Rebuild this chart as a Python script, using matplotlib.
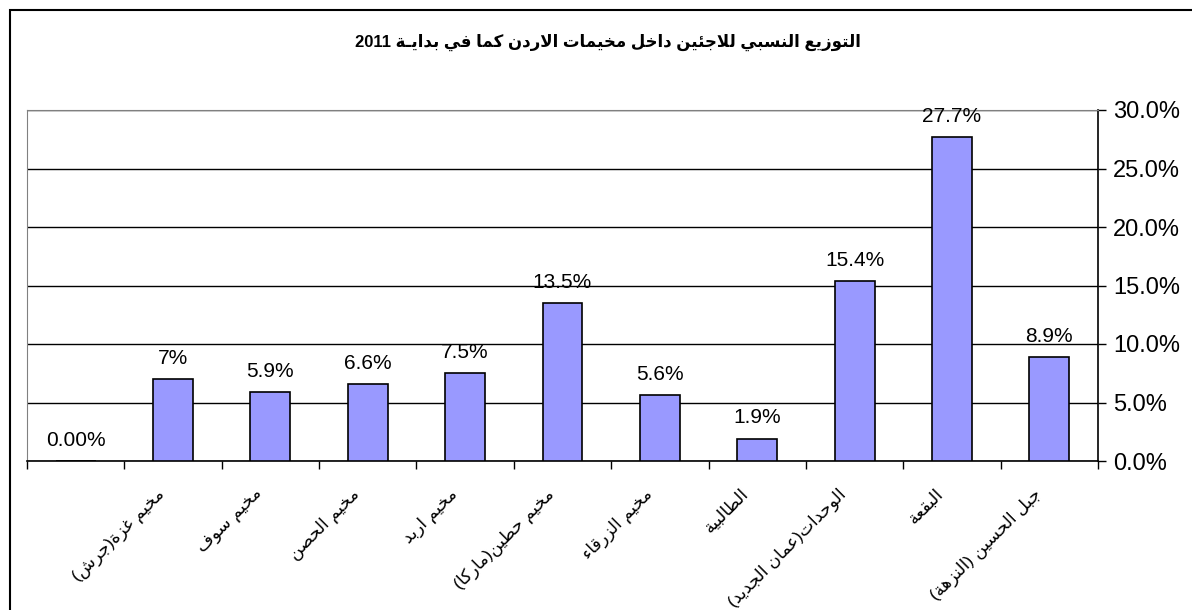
import re
import matplotlib
matplotlib.use("Agg")
import matplotlib.pyplot as plt
import matplotlib.transforms as mtransforms
from matplotlib.patches import Rectangle

# data
title = "التوزيع النسبي للاجئين داخل مخيمات الاردن كما في بدايـة 2011"
camps = ["", "مخيم غزة(جرش)", "مخيم سوف", "مخيم الحصن", "مخيم اربد",
         "مخيم حطين(ماركا)", "مخيم الزرقاء", "الطالبية",
         "الوحدات(عمان الجديد)", "البقعة", "جبل الحسين (النزهة)"]
shares = [0.0, 7.0, 5.9, 6.6, 7.5, 13.5, 5.6, 1.9, 15.4, 27.7, 8.9]
share_labels = ["0.00%", "7%", "5.9%", "6.6%", "7.5%", "13.5%", "5.6%",
                "1.9%", "15.4%", "27.7%", "8.9%"]
yticks = [0, 5, 10, 15, 20, 25, 30]

# matplotlib has no Arabic shaping, so map letters to presentation forms
# and lay them out right to left by hand
FORMS = {}
for ch, base in [("آ", 0xFE81), ("أ", 0xFE83), ("ؤ", 0xFE85), ("إ", 0xFE87),
                 ("ا", 0xFE8D), ("ة", 0xFE93), ("د", 0xFEA9), ("ذ", 0xFEAB),
                 ("ر", 0xFEAD), ("ز", 0xFEAF), ("و", 0xFEED), ("ى", 0xFEEF)]:
    FORMS[ch] = (base, base + 1)
for ch, base in [("ئ", 0xFE89), ("ب", 0xFE8F), ("ت", 0xFE95), ("ث", 0xFE99),
                 ("ج", 0xFE9D), ("ح", 0xFEA1), ("خ", 0xFEA5), ("س", 0xFEB1),
                 ("ش", 0xFEB5), ("ص", 0xFEB9), ("ض", 0xFEBD), ("ط", 0xFEC1),
                 ("ظ", 0xFEC5), ("ع", 0xFEC9), ("غ", 0xFECD), ("ف", 0xFED1),
                 ("ق", 0xFED5), ("ك", 0xFED9), ("ل", 0xFEDD), ("م", 0xFEE1),
                 ("ن", 0xFEE5), ("ه", 0xFEE9), ("ي", 0xFEF1)]:
    FORMS[ch] = (base, base + 1, base + 2, base + 3)
FORMS["ـ"] = (0x640,) * 4
FORMS["ء"] = (0xFE80,)
LAM_ALEF = {"آ": (0xFEF5, 0xFEF6), "أ": (0xFEF7, 0xFEF8),
            "إ": (0xFEF9, 0xFEFA), "ا": (0xFEFB, 0xFEFC)}


def joins_next(c):
    return c in FORMS and len(FORMS[c]) == 4


def joins_prev(c):
    return c in FORMS and len(FORMS[c]) >= 2


def shape(s):
    out = []
    i = 0
    while i < len(s):
        c = s[i]
        if c not in FORMS:
            out.append(c)
            i += 1
            continue
        link_prev = i > 0 and joins_next(s[i - 1]) and joins_prev(c)
        if c == "ل" and i + 1 < len(s) and s[i + 1] in LAM_ALEF:
            out.append(chr(LAM_ALEF[s[i + 1]][1 if link_prev else 0]))
            i += 2
            continue
        link_next = joins_next(c) and i + 1 < len(s) and joins_prev(s[i + 1])
        f = FORMS[c]
        if link_prev and link_next:
            g = f[3]
        elif link_prev:
            g = f[1]
        elif link_next:
            g = f[2]
        else:
            g = f[0]
        out.append(chr(g))
        i += 1
    return "".join(out)


def rtl(s):
    t = shape(s)[::-1].translate(str.maketrans("()", ")("))
    return re.sub(r"[0-9A-Za-z.%]+", lambda m: m.group(0)[::-1], t)


plt.rcParams['font.family'] = ['Liberation Sans', 'DejaVu Sans']

W, H = 1192, 610
fig = plt.figure(figsize=(W / 100, H / 100), dpi=100)
ax = fig.add_axes([27 / W, 1 - 461 / H, (1098 - 27) / W, (461 - 110) / H])

# outer chart frame (only left and top edges fall inside the picture)
fig.patches.append(Rectangle((10 / W, -0.1), 1.2, 1 - 10 / H + 0.1,
                             transform=fig.transFigure, fill=False,
                             edgecolor='black', linewidth=1.5))

x = list(range(len(shares)))
ax.bar(x, shares, width=0.41, color='#9999ff', edgecolor='black',
       linewidth=1.2, zorder=3)

for xi, v, lab in zip(x, shares, share_labels):
    ax.annotate(lab, xy=(xi, v), xytext=(0, 11), textcoords='offset points',
                ha='center', va='baseline', fontsize=15, zorder=4)

ax.set_xlim(-0.5, len(shares) - 0.5)
ax.set_ylim(0, 30)
ax.set_yticks(yticks)
ax.set_yticklabels([f"{t:.1f}%" for t in yticks], fontsize=17)
ax.yaxis.tick_right()
ax.tick_params(axis='y', direction='out', length=6, width=1, pad=5)
ax.grid(axis='y', color='black', linewidth=1, zorder=1)

ax.set_xticks([i - 0.5 for i in range(len(shares) + 1)], minor=True)
ax.tick_params(axis='x', which='minor', direction='out', length=6, width=1)
ax.set_xticks(x)
ax.set_xticklabels([rtl(c) for c in camps], fontsize=12.5, rotation=45,
                   ha='right', va='top', rotation_mode='anchor')
ax.tick_params(axis='x', which='major', length=0, pad=18)
shift = mtransforms.ScaledTranslation(-12 / 72, 0, fig.dpi_scale_trans)
for lab in ax.get_xticklabels():
    lab.set_transform(lab.get_transform() + shift)

for side in ('left', 'top'):
    ax.spines[side].set_color('#808080')
for side in ('right', 'bottom'):
    ax.spines[side].set_color('black')
    ax.spines[side].set_linewidth(1.2)

fig.text(608 / W, 1 - 42 / H, rtl(title), ha='center', va='center',
         fontsize=12, fontweight='bold')

fig.savefig("out.png", dpi=100)
